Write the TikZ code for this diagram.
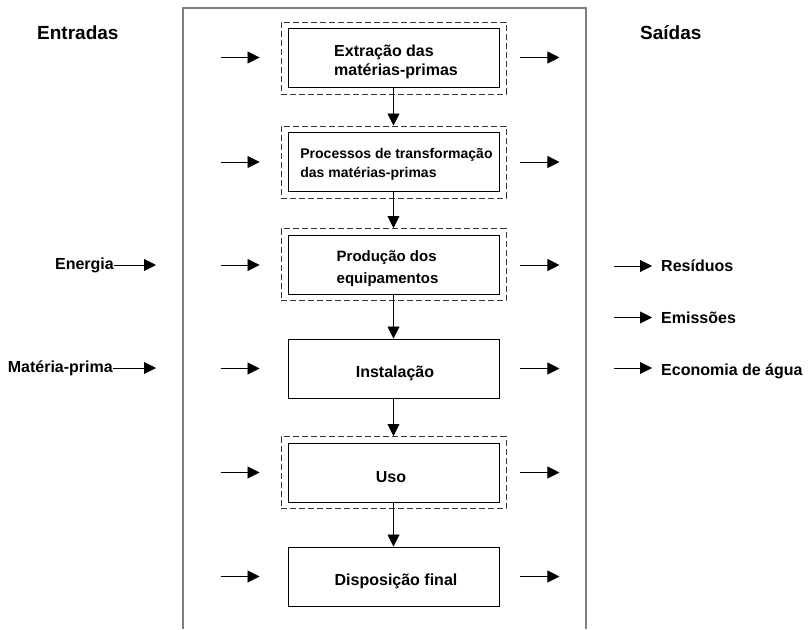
\documentclass[tikz,border=0pt]{standalone}
\usepackage{fontspec}
\setmainfont{Liberation Sans}
\usetikzlibrary{arrows.meta}
\begin{document}
\begin{tikzpicture}[x=1pt,y=-1pt,
  every node/.style={font=\bfseries\fontsize{16}{19}\selectfont, inner sep=0pt},
  heading/.style={font=\bfseries\fontsize{19}{22}\selectfont, anchor=base west},
  stage/.style={draw=black, line width=0.9pt, minimum width=211pt, minimum height=59pt},
  halo/.style={draw=black!80, line width=1pt, dash pattern=on 6pt off 3pt,
               minimum width=225pt, minimum height=72pt},
  caption/.style={align=left},
  flow/.style={line width=0.8pt, -{Triangle[length=12pt,width=12pt]}},
  frame/.style={draw=black!50, line width=1.6pt},
]
\useasboundingbox (0,0) rectangle (808,629);

% open frame around the life-cycle stages
\draw[frame] (183,629) -- (183,8) -- (586,8) -- (586,629);

% column headings
\node[heading] (hin)  at (37,39)  {Entradas};
\node[heading] (hout) at (640,39) {Saídas};

% dashed envelopes
\node[halo] (h1) at (393.5,58)  {};
\node[halo] (h2) at (393.5,162) {};
\node[halo] (h3) at (393.5,264.5) {};
\node[halo] (h5) at (393.5,472.5) {};

% stages
\node[stage] (b1) at (393.5,57.5)  {};
\node[stage] (b2) at (393.5,162)   {};
\node[stage] (b3) at (393.5,265)   {};
\node[stage] (b4) at (393.5,368.5) {};
\node[stage] (b5) at (393.5,472.5) {};
\node[stage] (b6) at (393.5,576.5) {};

% stage captions
\node[caption] (t1) at ([xshift=2.5pt,yshift=-4pt]b1.center) {Extração das\\matérias-primas};
\node[caption, font=\bfseries\fontsize{14}{19.5}\selectfont] (t2) at ([xshift=3pt,yshift=-2.5pt]b2.center) {Processos de transformação\\das matérias-primas};
\node[caption, font=\bfseries\fontsize{15}{22}\selectfont] (t3) at ([xshift=-6pt,yshift=-4pt]b3.center) {Produção dos\\equipamentos};
\node (t4) at ([xshift=1.5pt,yshift=-4.5pt]b4.center) {Instalação};
\node (t5) at ([xshift=-2.5pt,yshift=-4.5pt]b5.center) {Uso};
\node (t6) at ([xshift=2.5pt,yshift=-4.5pt]b6.center) {Disposição final};

% flow between stages
\draw[flow] (b1.south) -- (h2.north);
\draw[flow] (b2.south) -- (h3.north);
\draw[flow] (b3.south) -- (b4.north);
\draw[flow] (b4.south) -- (h5.north);
\draw[flow] (b5.south) -- (b6.north);

% inputs and outputs of every stage
\foreach \b in {b1,b2,b3,b4,b5,b6}{
  \draw[flow] ([xshift=-67pt]\b.west) -- ([xshift=-28pt]\b.west);
  \draw[flow] ([xshift=21pt]\b.east) -- ([xshift=60pt]\b.east);
}

% external inputs
\node[anchor=east] (en) at (114,265) {Energia};
\coordinate (enTip) at (156,265);
\draw[flow] (en.east) -- (enTip);
\node[anchor=east] (mp) at (113,368) {Matéria-prima};
\coordinate (mpTip) at (156,368);
\draw[flow] (mp.east) -- (mpTip);

% external outputs
\coordinate (r0) at (614,266);   \coordinate (r1) at (652,266);
\coordinate (e0) at (614,317.5); \coordinate (e1) at (652,317.5);
\coordinate (w0) at (614,368);   \coordinate (w1) at (652,368);
\draw[flow] (r0) -- (r1);
\draw[flow] (e0) -- (e1);
\draw[flow] (w0) -- (w1);
\node[anchor=base west] (res) at (661,271.7) {Resíduos};
\node[anchor=base west] (emi) at (661,323.3) {Emissões};
\node[anchor=base west] (eco) at (661,375)   {Economia de água};
\end{tikzpicture}
\end{document}
